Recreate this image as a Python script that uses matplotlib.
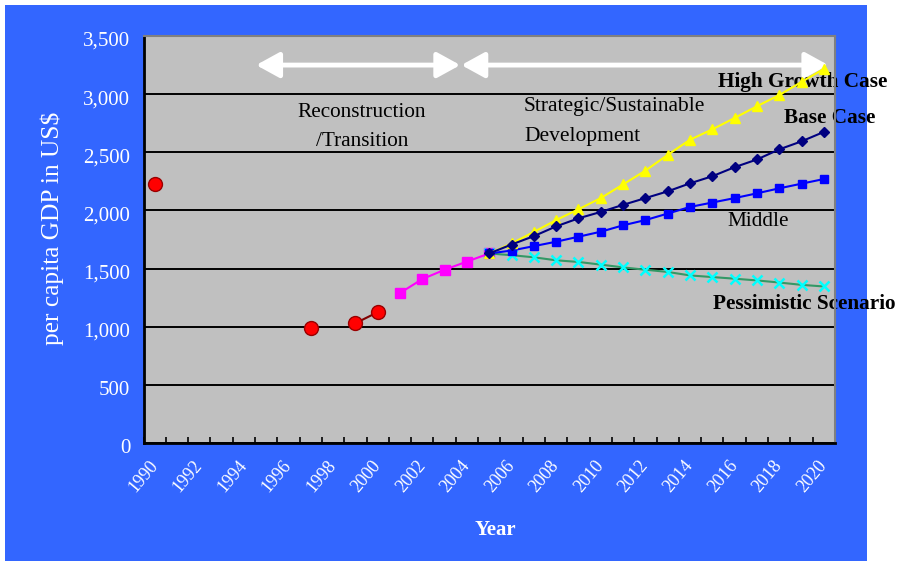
import numpy as np
import matplotlib
matplotlib.use("Agg")
import matplotlib.pyplot as plt
from matplotlib.patches import Rectangle
from matplotlib.transforms import ScaledTranslation

plt.rcParams["font.family"] = ["Liberation Serif", "DejaVu Serif"]

# ---- data -------------------------------------------------------------
nan = np.nan
actual_years = [1990, 1991, 1992, 1993, 1994, 1995, 1996, 1997, 1998, 1999, 2000]
actual_gdp = [2225, nan, nan, nan, nan, nan, nan, 985, nan, 1030, 1125]

estimate_years = [2001, 2002, 2003, 2004, 2005]
estimate_gdp = [1290, 1410, 1490, 1560, 1630]

proj_years = list(range(2005, 2021))
high_growth = [1630, 1716, 1815, 1917, 2010, 2106, 2224, 2342, 2478, 2608,
               2697, 2795, 2896, 2992, 3105, 3217]
base_case = [1630, 1707, 1779, 1863, 1932, 1987, 2048, 2106, 2164, 2233,
             2294, 2372, 2438, 2525, 2594, 2675]
middle = [1630, 1655, 1693, 1731, 1774, 1817, 1872, 1917, 1973, 2030,
          2068, 2106, 2147, 2190, 2230, 2270]
pessimistic = [1630, 1615, 1597, 1571, 1557, 1534, 1510, 1490, 1471, 1441,
               1427, 1413, 1398, 1380, 1360, 1346]

tick_years = list(range(1990, 2021, 2))
y_ticks = [0, 500, 1000, 1500, 2000, 2500, 3000, 3500]

# ---- figure -----------------------------------------------------------
W, H = 902, 561
fig = plt.figure(figsize=(W / 100, H / 100), dpi=100, facecolor="white")

# blue panel behind everything
fig.patches.append(Rectangle((5 / W, 0), 862 / W, (H - 5) / H,
                             transform=fig.transFigure, facecolor="#3366FF",
                             edgecolor="none", zorder=-10))

def px(x, y):
    return x / W, 1 - y / H

ax = fig.add_axes([143.5 / W, 1 - 443 / H, (835 - 143.5) / W, (443 - 36) / H])
ax.set_zorder(1)
ax.set_facecolor("#C0C0C0")
ax.set_xlim(1989.5, 2020.5)
ax.set_ylim(0, 3500)

for s in ("left", "bottom"):
    ax.spines[s].set_color("black")
    ax.spines[s].set_linewidth(2)
for s in ("top", "right"):
    ax.spines[s].set_color("#808080")
    ax.spines[s].set_linewidth(1.5)

ax.set_yticks(y_ticks)
ax.set_yticklabels([f"{v:,}" for v in y_ticks])
ax.yaxis.grid(True, color="black", linewidth=1.4)
ax.set_axisbelow(True)
ax.tick_params(axis="y", length=0, pad=9.5, labelcolor="white", labelsize=15)
y_shift = ScaledTranslation(0, -3 / 100, fig.dpi_scale_trans)
for lab in ax.get_yticklabels():
    lab.set_transform(lab.get_transform() + y_shift)

# tick marks between year categories, labels centred on every other year
ax.set_xticks(np.arange(1989.5, 2021, 1.0))
ax.set_xticklabels([])
ax.tick_params(axis="x", which="major", direction="in", length=4,
               width=1.2, color="black")
ax.set_xticks(tick_years, minor=True)
ax.set_xticklabels([str(y) for y in tick_years], minor=True)
ax.tick_params(axis="x", which="minor", length=0, pad=14, labelcolor="white",
               labelsize=13)
for lab in ax.get_xticklabels(minor=True):
    lab.set_rotation(50)
    lab.set_rotation_mode("anchor")
    lab.set_ha("right")
    lab.set_va("center")

fig.text(*px(52, 228), "per capita GDP in US$", rotation=90, color="white",
         fontsize=18.3, ha="center", va="center")
fig.text(*px(495, 530), "Year", color="white", fontsize=15,
         fontweight="bold", ha="center", va="center")

# ---- period arrows ----------------------------------------------------
arrow_kw = dict(arrowstyle="<|-|>,head_length=1.0,head_width=0.55",
                color="white", lw=3.5, mutation_scale=14,
                shrinkA=0, shrinkB=0)
ax.annotate("", xy=(2003.7, 3250), xytext=(1994.55, 3250),
            arrowprops=arrow_kw, zorder=3, annotation_clip=False)
ax.annotate("", xy=(2020.2, 3250), xytext=(2003.75, 3250),
            arrowprops=arrow_kw, zorder=3, annotation_clip=False)

# ---- period / scenario labels (under the lines) ----------------------
def label(x, y, s, size=15.3, weight="normal", ha="left"):
    ax.text(*px(x, y), s, transform=fig.transFigure, fontsize=size,
            fontweight=weight, ha=ha, va="center", zorder=2, clip_on=False)

label(362, 112, "Reconstruction", ha="center")
label(362, 141, "/Transition", ha="center")
label(524, 107, "Strategic/Sustainable", size=15.5)
label(524, 137, "Development", size=15.5)
label(718, 82, "High Growth Case", weight="bold")
label(784, 118, "Base Case", weight="bold")
label(727, 222, "Middle")
label(713, 304, "Pessimistic Scenario", weight="bold")

# ---- series -----------------------------------------------------------
ax.plot(actual_years, actual_gdp, color="#800000", lw=1.5, marker="o",
        markersize=10, markerfacecolor="#FF0000", markeredgecolor="#990000",
        markeredgewidth=1, zorder=5, clip_on=False)
ax.plot(estimate_years, estimate_gdp, color="#FF00FF", lw=1.5, marker="s",
        markersize=7, markerfacecolor="#FF00FF", markeredgecolor="#FF00FF",
        zorder=4)
ax.plot(proj_years, pessimistic, color="#339966", lw=1.5, marker="x",
        markersize=7, markeredgecolor="#00FFFF", markeredgewidth=1.8, zorder=5)
ax.plot(proj_years, middle, color="#0000FF", lw=1.5, marker="s",
        markersize=5.5, markerfacecolor="#0000FF", markeredgecolor="#0000FF",
        zorder=6)
ax.plot(proj_years, high_growth, color="#FFFF00", lw=1.5, marker="^",
        markersize=7, markerfacecolor="#FFFF00", markeredgecolor="#FFFF00",
        zorder=6)
ax.plot(proj_years, base_case, color="#000080", lw=1.5, marker="D",
        markersize=5.5, markerfacecolor="#000080", markeredgecolor="#000080",
        zorder=7)

fig.savefig("out.png", dpi=100, facecolor="white")
